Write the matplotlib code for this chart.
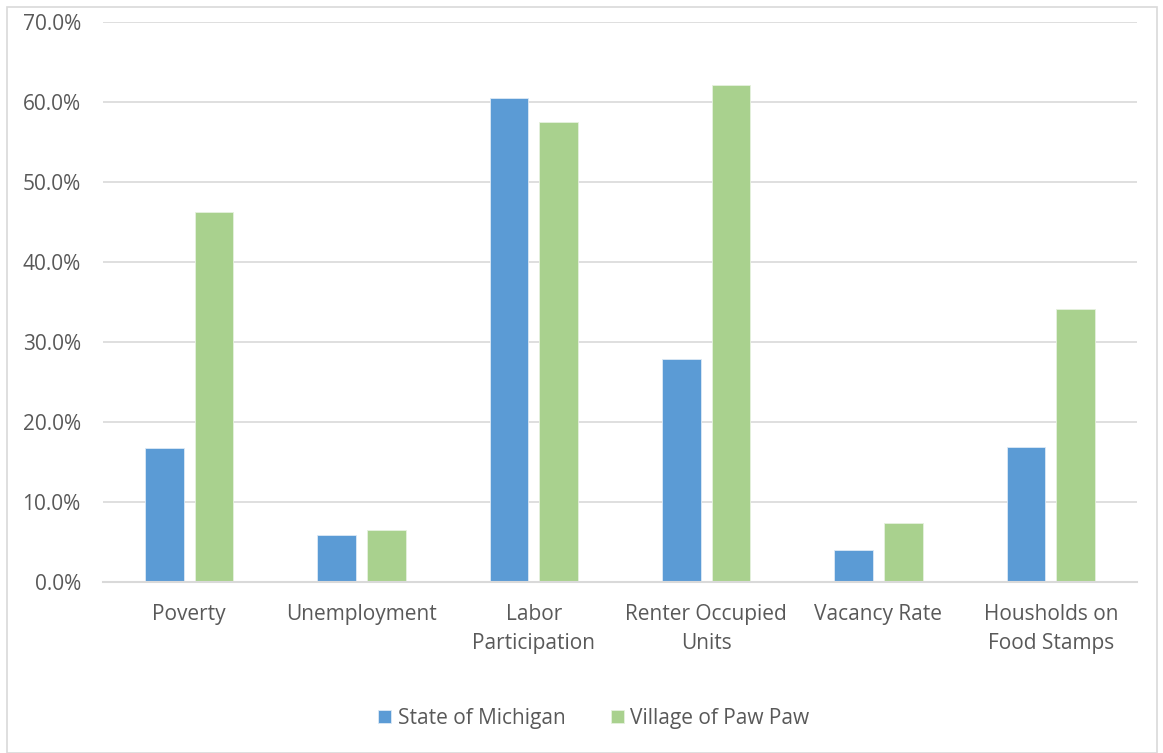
import matplotlib
matplotlib.use("Agg")
import matplotlib.pyplot as plt
import numpy as np
from matplotlib.patches import Rectangle

categories = ["Poverty", "Unemployment", "Labor\nParticipation", "Renter Occupied\nUnits",
              "Vacancy Rate", "Housholds on\nFood Stamps"]
michigan = [16.8, 5.9, 60.5, 27.9, 4.0, 16.9]
pawpaw = [46.3, 6.5, 57.5, 62.1, 7.4, 34.1]
series_names = ["State of Michigan", "Village of Paw Paw"]
yticks = [0, 10, 20, 30, 40, 50, 60, 70]

plt.rcParams['font.family'] = ['Open Sans', 'DejaVu Sans']
text_color = "#595959"
fs = 15

fig = plt.figure(figsize=(11.63, 7.53), dpi=100)
ax = fig.add_axes([103/1163, 171/753, 1034/1163, 560/753])

x = np.arange(len(categories))
w = 0.225
off = 0.1435
ax.bar(x - off, michigan, w, color="#5B9BD5", edgecolor="#DCE9F5", linewidth=0.6,
       label=series_names[0], zorder=3)
ax.bar(x + off, pawpaw, w, color="#A9D18E", edgecolor="#E6F1DE", linewidth=0.6,
       label=series_names[1], zorder=3)

ax.set_xlim(-0.5, len(categories) - 0.5)
ax.set_ylim(0, 70)
ax.set_yticks(yticks)
ax.set_yticklabels([f"{v:.1f}%" for v in yticks], fontsize=fs, color=text_color)
ax.set_xticks(x)
ax.set_xticklabels(categories, fontsize=fs, color=text_color, linespacing=1.5)
ax.tick_params(axis='both', length=0)
ax.tick_params(axis='y', pad=16)
ax.tick_params(axis='x', pad=16)
ax.grid(axis='y', color="#D9D9D9", linewidth=1.2, zorder=0)
for s in ['top', 'right', 'left']:
    ax.spines[s].set_visible(False)
ax.spines['bottom'].set_color("#D9D9D9")
ax.spines['bottom'].set_linewidth(1.5)
ax.spines['bottom'].set_zorder(4)

handles, labels = ax.get_legend_handles_labels()
fig.legend(handles, labels, loc='center', bbox_to_anchor=(594/1163, 1 - 718.5/753), ncol=2,
           frameon=False, fontsize=fs, labelcolor=text_color, handlelength=0.62,
           handleheight=0.62, handletextpad=0.3, columnspacing=2.2)

fig.patches.append(Rectangle((7/1163, 0.0), 1150/1163, 746/753, transform=fig.transFigure,
                             fill=False, edgecolor="#D9D9D9", linewidth=1.2))

fig.savefig("out.png", dpi=100, facecolor="white")
